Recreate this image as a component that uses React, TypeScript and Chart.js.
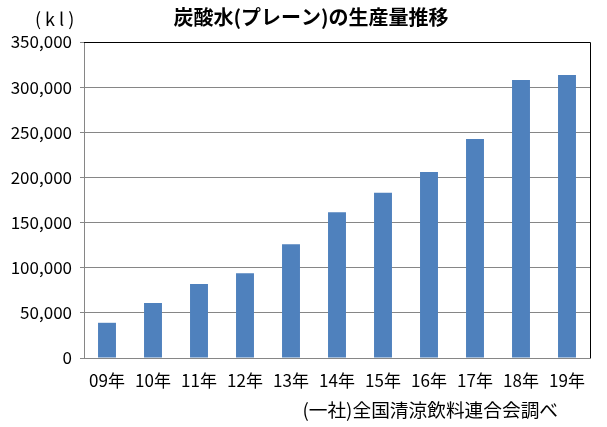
import React, { useEffect, useRef } from "react";
import { Chart, registerables } from "chart.js";

Chart.register(...registerables);

const categories = ["09年", "10年", "11年", "12年", "13年", "14年", "15年", "16年", "17年", "18年", "19年"];
const production = [39000, 61000, 82000, 94000, 126000, 161500, 183000, 206000, 242500, 308000, 313500];
const yTicks = [0, 50000, 100000, 150000, 200000, 250000, 300000, 350000];
const titleText = "炭酸水(プレーン)の生産量推移";
const unitText = "(kl)";
const sourceText = "(一社)全国清涼飲料連合会調べ";

const FONT = '"Noto Sans CJK JP", "Noto Sans", sans-serif';

const textPlugin = {
  id: "textPlugin",
  afterDraw(chart: any) {
    const { ctx, chartArea } = chart;
    ctx.save();
    // frame top and right
    ctx.strokeStyle = "#000";
    ctx.lineWidth = 1;
    ctx.beginPath();
    ctx.moveTo(chartArea.left, chartArea.top + 0.5);
    ctx.lineTo(chartArea.right + 0.5, chartArea.top + 0.5);
    ctx.lineTo(chartArea.right + 0.5, chartArea.bottom);
    ctx.stroke();
    ctx.fillStyle = "#000";
    ctx.textBaseline = "middle";
    ctx.font = `bold 20px ${FONT}`;
    ctx.textAlign = "center";
    ctx.fillText(titleText, 311, 17);
    ctx.font = `18px ${FONT}`;
    ctx.textAlign = "left";
    (ctx as any).letterSpacing = "4px";
    ctx.fillText(unitText, 35, 19);
    (ctx as any).letterSpacing = "0px";
    ctx.font = `18.7px ${FONT}`;
    ctx.textAlign = "right";
    ctx.fillText(sourceText, 558, 410);
    ctx.restore();
  },
};

export default function App() {
  const ref = useRef<HTMLCanvasElement | null>(null);
  useEffect(() => {
    document.body.style.margin = "0";
    const chart = new Chart(ref.current!, {
      type: "bar",
      data: {
        labels: categories,
        datasets: [
          {
            data: production,
            backgroundColor: "#4F81BD",
            barPercentage: 0.39,
            categoryPercentage: 1,
          },
        ],
      },
      options: {
        animation: false,
        responsive: false,
        devicePixelRatio: 1,
        layout: { padding: { left: 8, top: 42, right: 17, bottom: 29 } },
        plugins: { legend: { display: false }, tooltip: { enabled: false }, title: { display: false } },
        scales: {
          x: {
            grid: { display: false },
            border: { color: "#868686" },
            ticks: { color: "#000", font: { family: FONT, size: 17 }, padding: 4, maxRotation: 0 },
            afterFit(scale: any) {
              scale.height = 40;
            },
          },
          y: {
            min: 0,
            max: 350000,
            afterBuildTicks(scale: any) {
              scale.ticks = yTicks.map((v) => ({ value: v }));
            },
            grid: { color: "#868686", tickLength: 4 },
            border: { color: "#868686" },
            ticks: {
              color: "#000",
              padding: 8,
              font: { family: FONT, size: 17 },
              callback: (v: any) => Number(v).toLocaleString("en-US"),
            },
            afterFit(scale: any) {
              scale.width = 76;
            },
          },
        },
      },
      plugins: [textPlugin],
    });
    return () => chart.destroy();
  }, []);
  return (
    <div style={{ width: 607, height: 427, background: "#fff" }}>
      <canvas ref={ref} width={607} height={427} />
    </div>
  );
}
